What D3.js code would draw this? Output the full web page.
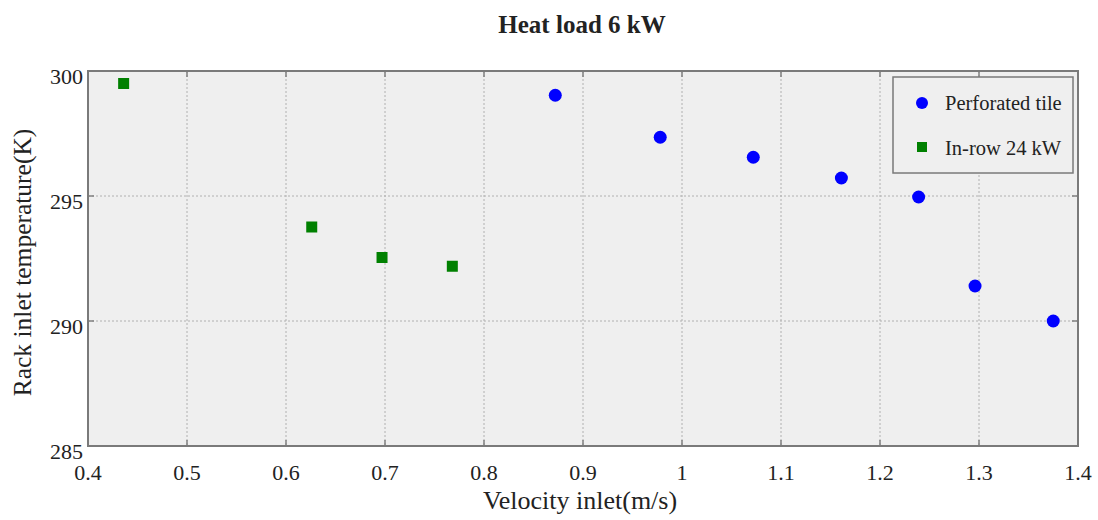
<!DOCTYPE html>
<html>
<head>
<meta charset="utf-8">
<script src="https://cdn.jsdelivr.net/npm/d3@7"></script>
<style>
  body { margin: 0; background: #fff; }
  text { font-family: "Liberation Serif", "Times New Roman", serif; fill: #222; }
</style>
</head>
<body>
<script>
// data
let perforatedX = [0.872, 0.978, 1.072, 1.161, 1.239, 1.296, 1.375];
let perforatedY = [299.03, 297.35, 296.55, 295.72, 294.96, 291.4, 290.0];
let inrowX = [0.436, 0.626, 0.697, 0.768];
let inrowY = [299.5, 293.76, 292.54, 292.19];
let xTicks = [0.4, 0.5, 0.6, 0.7, 0.8, 0.9, 1, 1.1, 1.2, 1.3, 1.4];
let yTicks = [285, 290, 295, 300];
let seriesNames = ["Perforated tile", "In-row 24 kW"];

let width = 1098;
let height = 520;
let margin = {left: 88, right: 20, top: 71, bottom: 74};

let svg = d3.select("body").append("svg")
            .attr("width", width)
            .attr("height", height);

let x = d3.scaleLinear().domain([0.4, 1.4]).range([margin.left, width - margin.right]);
let y = d3.scaleLinear().domain([285, 300]).range([height - margin.bottom, margin.top]);

let x0 = x.range()[0], x1 = x.range()[1];
let y0 = y.range()[0], y1 = y.range()[1];

// plot background
svg.append("rect")
   .attr("x", x0).attr("y", y1)
   .attr("width", x1 - x0).attr("height", y0 - y1)
   .attr("fill", "#efefef");

// grid
let grid = svg.append("g")
              .attr("stroke", "#b0b0b0")
              .attr("stroke-width", 1)
              .attr("stroke-dasharray", "2,2");

grid.selectAll(".gx")
    .data(xTicks.slice(1, -1))
    .enter().append("line")
    .attr("x1", d => x(d)).attr("x2", d => x(d))
    .attr("y1", y1).attr("y2", y0);

grid.selectAll(".gy")
    .data(yTicks.slice(1, -1))
    .enter().append("line")
    .attr("x1", x0).attr("x2", x1)
    .attr("y1", d => y(d)).attr("y2", d => y(d));

// inward ticks, matlab style
let ticks = svg.append("g").attr("stroke", "#808080").attr("stroke-width", 1.5);
xTicks.forEach(function(t) {
  ticks.append("line").attr("x1", x(t)).attr("x2", x(t)).attr("y1", y0).attr("y2", y0 - 6);
  ticks.append("line").attr("x1", x(t)).attr("x2", x(t)).attr("y1", y1).attr("y2", y1 + 6);
});
yTicks.forEach(function(t) {
  ticks.append("line").attr("x1", x0).attr("x2", x0 + 6).attr("y1", y(t)).attr("y2", y(t));
  ticks.append("line").attr("x1", x1).attr("x2", x1 - 6).attr("y1", y(t)).attr("y2", y(t));
});

// frame
svg.append("rect")
   .attr("x", x0).attr("y", y1)
   .attr("width", x1 - x0).attr("height", y0 - y1)
   .attr("fill", "none")
   .attr("stroke", "#7a7a7a")
   .attr("stroke-width", 2);

// tick labels
svg.append("g").selectAll("text")
   .data(xTicks)
   .enter().append("text")
   .attr("x", d => x(d))
   .attr("y", y0 + 34)
   .attr("text-anchor", "middle")
   .attr("font-size", 22)
   .text(d => d3.format("~g")(d));

svg.append("g").selectAll("text")
   .data(yTicks)
   .enter().append("text")
   .attr("x", x0 - 5)
   .attr("y", d => y(d) + 13)
   .attr("text-anchor", "end")
   .attr("font-size", 22)
   .text(d => d);

// titles
svg.append("text")
   .attr("x", 582)
   .attr("y", 33)
   .attr("text-anchor", "middle")
   .attr("font-size", 25)
   .attr("font-weight", "bold")
   .text("Heat load 6 kW");

svg.append("text")
   .attr("x", 580)
   .attr("y", 509)
   .attr("text-anchor", "middle")
   .attr("font-size", 26)
   .text("Velocity inlet(m/s)");

svg.append("text")
   .attr("transform", "translate(31," + ((y0 + y1) / 2 + 4) + ") rotate(-90)")
   .attr("text-anchor", "middle")
   .attr("font-size", 25.5)
   .text("Rack inlet temperature(K)");

// points
svg.append("g").selectAll("circle")
   .data(d3.zip(perforatedX, perforatedY))
   .enter().append("circle")
   .attr("cx", d => x(d[0]))
   .attr("cy", d => y(d[1]))
   .attr("r", 6.5)
   .attr("fill", "#0000ff");

let sq = 11;
svg.append("g").selectAll("rect")
   .data(d3.zip(inrowX, inrowY))
   .enter().append("rect")
   .attr("x", d => x(d[0]) - sq / 2)
   .attr("y", d => y(d[1]) - sq / 2)
   .attr("width", sq).attr("height", sq)
   .attr("fill", "#008000");

// legend
let legend = svg.append("g");
legend.append("rect")
      .attr("x", 893).attr("y", 77)
      .attr("width", 180).attr("height", 96)
      .attr("fill", "#efefef")
      .attr("stroke", "#7a7a7a")
      .attr("stroke-width", 1.5);

legend.append("circle")
      .attr("cx", 922).attr("cy", 103).attr("r", 6)
      .attr("fill", "#0000ff");
legend.append("rect")
      .attr("x", 917).attr("y", 142).attr("width", 10).attr("height", 10)
      .attr("fill", "#008000");

legend.selectAll(".lt")
      .data(seriesNames)
      .enter().append("text")
      .attr("x", 945)
      .attr("y", (d, i) => 110 + i * 45)
      .attr("font-size", 20.5)
      .text(d => d);
</script>
</body>
</html>
